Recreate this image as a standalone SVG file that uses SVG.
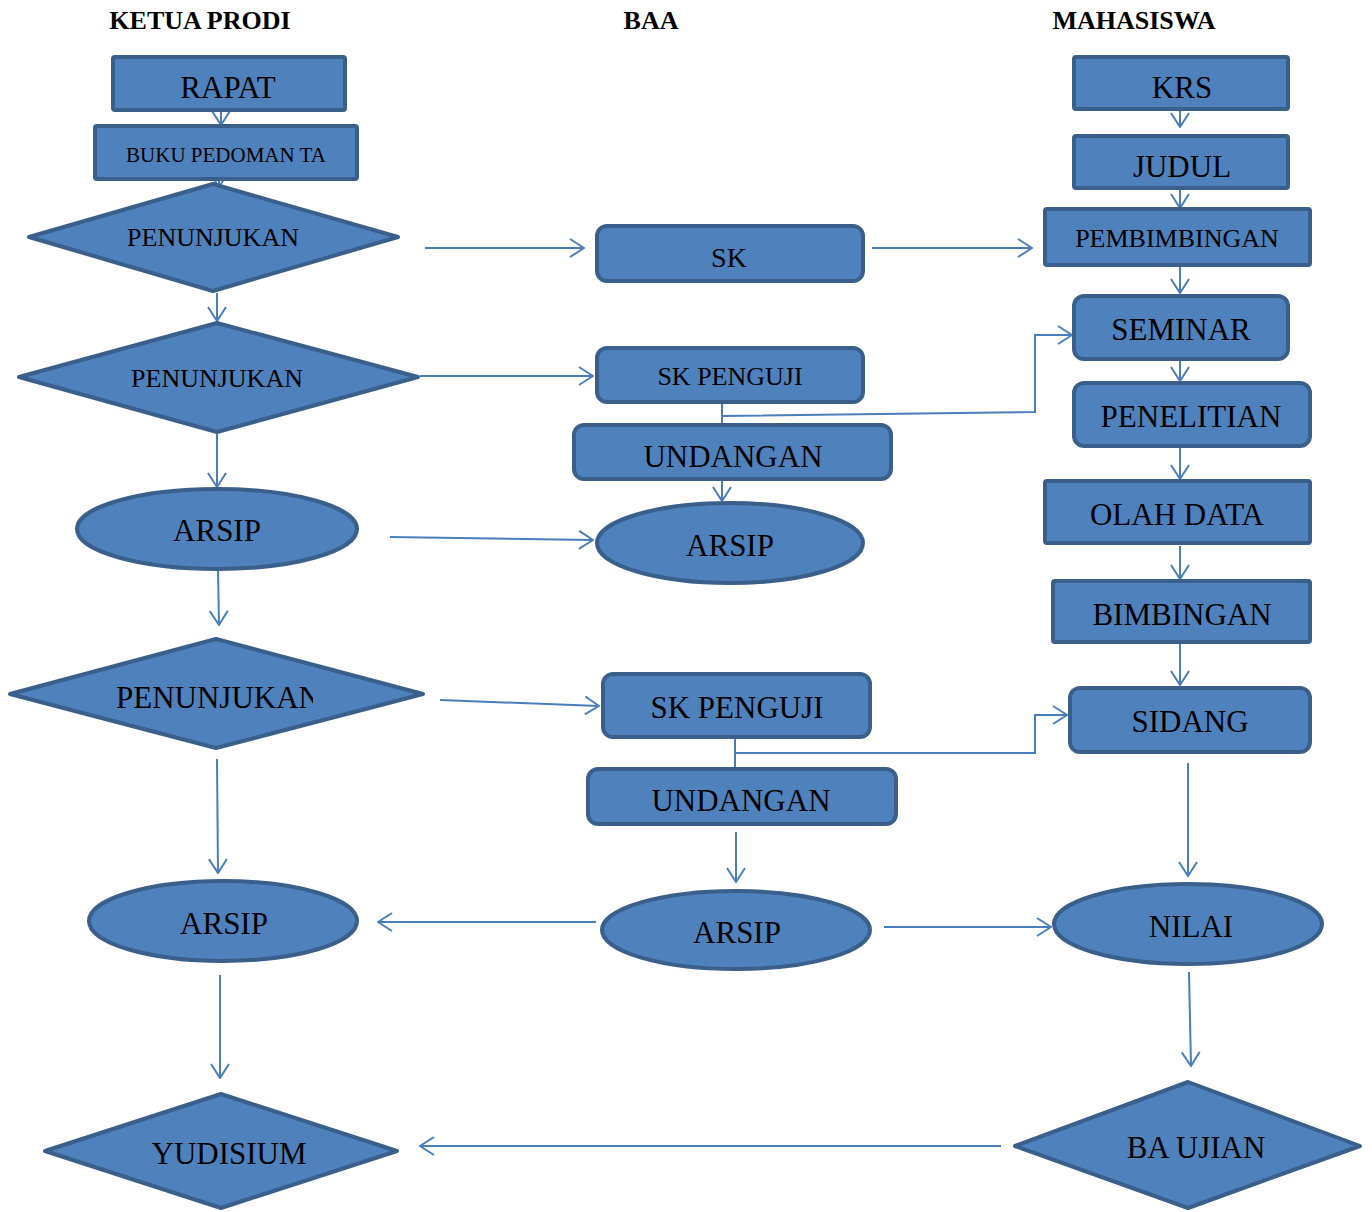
<svg xmlns="http://www.w3.org/2000/svg" width="1372" height="1212" viewBox="0 0 1372 1212">
<style>
.n{fill:#4F81BD;stroke:#3A5F8B;stroke-width:4;stroke-linejoin:round}
.t{font-family:"Liberation Serif","Times New Roman",serif;fill:#000;text-anchor:middle}
.h{font-family:"Liberation Serif","Times New Roman",serif;font-weight:bold;font-size:26px;fill:#000;text-anchor:middle}
.c{fill:none;stroke:#4A7EBB;stroke-width:2;marker-end:url(#a)}
</style>
<defs>
<marker id="a" markerWidth="16" markerHeight="20" refX="15" refY="10" orient="auto" markerUnits="userSpaceOnUse">
<path d="M1,1 L15,10 L1,19" fill="none" stroke="#4A7EBB" stroke-width="2"/>
</marker>
<clipPath id="clipP3"><rect x="0" y="640" width="313" height="110"/></clipPath>
</defs>
<rect width="1372" height="1212" fill="#fff"/>
<g id="headers">
<text class="h" x="200" y="29">KETUA PRODI</text>
<text class="h" x="651" y="29">BAA</text>
<text class="h" x="1134" y="29">MAHASISWA</text>
</g>
<g id="connectors">
<path class="c" d="M221,112 V125"/>
<path class="c" d="M219,181 V187"/>
<path class="c" d="M425,248 H584"/>
<path class="c" d="M872,248 H1032"/>
<path class="c" d="M217,293 V321"/>
<path class="c" d="M420,376 H593"/>
<path class="c" d="M722,404 V423 M722,416 L1035,412 V335 H1072"/>
<path class="c" d="M722,481 V501"/>
<path class="c" d="M217,434 V487"/>
<path class="c" d="M390,537 L593,540"/>
<path class="c" d="M218,570 L219,625"/>
<path class="c" d="M440,700 L599,706"/>
<path class="c" d="M735,739 V767 M735,753 H1035 V715 H1067"/>
<path class="c" d="M736,832 V882"/>
<path class="c" d="M217,759 L218,873"/>
<path class="c" d="M596,922 H378"/>
<path class="c" d="M884,927 H1051"/>
<path class="c" d="M1188,763 V876"/>
<path class="c" d="M1189,972 L1191,1066"/>
<path class="c" d="M220,975 V1078"/>
<path class="c" d="M1001,1146 H420"/>
<path class="c" d="M1180,111 V127"/>
<path class="c" d="M1180,190 V208"/>
<path class="c" d="M1180,267 V293"/>
<path class="c" d="M1180,361 V381"/>
<path class="c" d="M1180,448 V479"/>
<path class="c" d="M1180,546 V579"/>
<path class="c" d="M1180,644 V685"/>
</g>
<g id="rapat"><rect class="n" x="113" y="57" width="232" height="53" rx="2"/><text class="t" x="228" y="98" font-size="31">RAPAT</text></g>
<g id="buku"><rect class="n" x="95" y="126" width="262" height="53" rx="2"/><text class="t" x="226" y="162" font-size="21">BUKU PEDOMAN TA</text></g>
<g id="penunjukan1"><polygon class="n" points="29,237 213,184 398,237 213,291"/><text class="t" x="213" y="246" font-size="26">PENUNJUKAN</text></g>
<g id="penunjukan2"><polygon class="n" points="19,377 217,323 418,377 217,432"/><text class="t" x="217" y="387" font-size="26">PENUNJUKAN</text></g>
<g id="arsip-kp1"><ellipse class="n" cx="217" cy="529" rx="140" ry="40"/><text class="t" x="217" y="541" font-size="31">ARSIP</text></g>
<g id="penunjukan3"><polygon class="n" points="10,694 216,639 423,694 216,748"/><text class="t" x="116" y="708" font-size="31" style="text-anchor:start" clip-path="url(#clipP3)">PENUNJUKAN</text></g>
<g id="arsip-kp2"><ellipse class="n" cx="223" cy="921" rx="134" ry="40"/><text class="t" x="224" y="934" font-size="31">ARSIP</text></g>
<g id="yudisium"><polygon class="n" points="45,1151 221,1094 397,1151 221,1208"/><text class="t" x="229" y="1164" font-size="31">YUDISIUM</text></g>
<g id="sk"><rect class="n" x="597" y="226" width="266" height="55" rx="10"/><text class="t" x="729" y="267" font-size="28">SK</text></g>
<g id="skpenguji1"><rect class="n" x="597" y="348" width="266" height="54" rx="10"/><text class="t" x="730" y="385" font-size="26">SK PENGUJI</text></g>
<g id="undangan1"><rect class="n" x="574" y="425" width="317" height="54" rx="10"/><text class="t" x="733" y="467" font-size="31">UNDANGAN</text></g>
<g id="arsip-baa1"><ellipse class="n" cx="730" cy="543" rx="133" ry="40"/><text class="t" x="730" y="556" font-size="31">ARSIP</text></g>
<g id="skpenguji2"><rect class="n" x="603" y="674" width="267" height="63" rx="10"/><text class="t" x="737" y="718" font-size="31">SK PENGUJI</text></g>
<g id="undangan2"><rect class="n" x="588" y="769" width="308" height="55" rx="10"/><text class="t" x="741" y="811" font-size="31">UNDANGAN</text></g>
<g id="arsip-baa2"><ellipse class="n" cx="736" cy="930" rx="134" ry="39"/><text class="t" x="737" y="943" font-size="31">ARSIP</text></g>
<g id="krs"><rect class="n" x="1074" y="57" width="214" height="52" rx="2"/><text class="t" x="1182" y="98" font-size="31">KRS</text></g>
<g id="judul"><rect class="n" x="1074" y="136" width="214" height="52" rx="2"/><text class="t" x="1182" y="177" font-size="31">JUDUL</text></g>
<g id="pembimbingan"><rect class="n" x="1045" y="209" width="265" height="56" rx="2"/><text class="t" x="1177" y="247" font-size="26">PEMBIMBINGAN</text></g>
<g id="seminar"><rect class="n" x="1074" y="296" width="214" height="63" rx="10"/><text class="t" x="1181" y="340" font-size="31">SEMINAR</text></g>
<g id="penelitian"><rect class="n" x="1074" y="383" width="236" height="63" rx="10"/><text class="t" x="1191" y="427" font-size="31">PENELITIAN</text></g>
<g id="olahdata"><rect class="n" x="1045" y="481" width="265" height="62" rx="2"/><text class="t" x="1177" y="525" font-size="31">OLAH DATA</text></g>
<g id="bimbingan"><rect class="n" x="1053" y="581" width="257" height="61" rx="2"/><text class="t" x="1182" y="625" font-size="31">BIMBINGAN</text></g>
<g id="sidang"><rect class="n" x="1070" y="688" width="240" height="64" rx="10"/><text class="t" x="1190" y="732" font-size="31">SIDANG</text></g>
<g id="nilai"><ellipse class="n" cx="1188" cy="924" rx="134" ry="40"/><text class="t" x="1191" y="937" font-size="31">NILAI</text></g>
<g id="baujian"><polygon class="n" points="1015,1146 1188,1082 1360,1146 1188,1208"/><text class="t" x="1196" y="1158" font-size="31">BA UJIAN</text></g>
</svg>
